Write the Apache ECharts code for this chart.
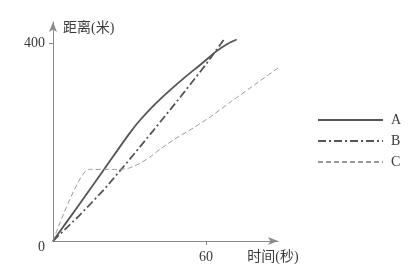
<!DOCTYPE html>
<html><head><meta charset="utf-8">
<script src="https://cdn.jsdelivr.net/npm/echarts@6/dist/echarts.min.js"></script>
<style>html,body{margin:0;padding:0;background:#fff}#c{width:412px;height:271px}</style>
</head><body><div id="c"></div>
<script>
var seriesNames = ['A', 'B', 'C'];
var aTime = [0, 10, 20, 30, 34, 40, 46, 52, 58, 64, 68, 72];
var aDist = [0, 72, 145, 218, 244, 277, 306, 333, 358, 384, 398, 408];
var bTime = [0, 10, 20, 30, 40, 50, 60, 67];
var bDist = [0, 50, 104, 165, 228, 292, 358, 408];
var cTime = [0, 14, 26, 30, 34, 38, 42, 47, 55, 61, 70, 80, 90, 97, 104.5];
var cDist = [0, 145, 145, 148, 157, 170, 186, 204, 229, 249, 283, 320, 357, 382, 410];
var xTicks = [60];
var yTicks = [400];
var yLabels = [0, 400];

function pairs(xs, ys) { return xs.map(function (x, i) { return [x, ys[i]]; }); }

var font = '"Liberation Serif", "Noto Sans CJK SC", serif';
var axisCol = '#8a8a8a';
var txtCol = '#3a3a3a';
var chart = echarts.init(document.getElementById('c'));
chart.setOption({
  animation: false,
  backgroundColor: '#fff',
  grid: { left: 53, top: 22, width: 225, height: 219 },
  legend: {
    orient: 'vertical', left: 317, top: 113, padding: 0, itemWidth: 65, itemHeight: 14, itemGap: 7,
    itemStyle: { opacity: 0 },
    textStyle: { fontFamily: font, fontSize: 14, color: txtCol, padding: [0, 0, 0, 3] },
    data: seriesNames
  },
  xAxis: {
    type: 'value', min: 0, max: 88.2,
    splitLine: { show: false },
    axisLine: { lineStyle: { color: axisCol, width: 1 }, symbol: ['none', 'arrow'], symbolSize: [6, 10] },
    axisTick: { show: true, length: 4, customValues: xTicks, lineStyle: { color: axisCol } },
    axisLabel: { customValues: xTicks, margin: 9, fontFamily: font, fontSize: 14, color: txtCol },
    name: '时间(秒)', nameLocation: 'end', nameGap: -5,
    nameTextStyle: { fontFamily: font, fontSize: 14, color: txtCol, align: 'center', verticalAlign: 'top', padding: [9, 0, 0, 0] }
  },
  yAxis: {
    type: 'value', min: 0, max: 443.5,
    splitLine: { show: false },
    axisLine: { lineStyle: { color: axisCol, width: 1 }, symbol: ['none', 'arrow'], symbolSize: [6, 10] },
    axisTick: { show: true, length: 4, customValues: yTicks, lineStyle: { color: axisCol } },
    axisLabel: {
      customValues: yLabels, margin: 8, fontFamily: font, fontSize: 14, color: txtCol,
      formatter: function (v) { return v === 0 ? '{z|0}' : String(v); },
      rich: { z: { fontFamily: font, fontSize: 14, color: txtCol, padding: [12, 0, 0, 0] } }
    },
    name: '距离(米)', nameLocation: 'end', nameGap: -6,
    nameTextStyle: { fontFamily: font, fontSize: 14, color: txtCol, align: 'left', verticalAlign: 'middle', padding: [0, 0, 0, 10] }
  },
  series: [
    { name: 'A', type: 'line', data: pairs(aTime, aDist), showSymbol: false, symbol: 'none', smooth: 0.3, clip: false,
      lineStyle: { color: '#555', width: 1.8, type: 'solid' }, itemStyle: { color: '#555' } },
    { name: 'B', type: 'line', data: pairs(bTime, bDist), showSymbol: false, symbol: 'none', clip: false,
      lineStyle: { color: '#555', width: 1.8, type: [8, 3, 2, 3] }, itemStyle: { color: '#555' } },
    { name: 'C', type: 'line', data: pairs(cTime, cDist), showSymbol: false, symbol: 'none', smooth: 0.2, clip: false,
      lineStyle: { color: '#999', width: 1, type: [5, 3] }, itemStyle: { color: '#999' } }
  ]
});
</script></body></html>
